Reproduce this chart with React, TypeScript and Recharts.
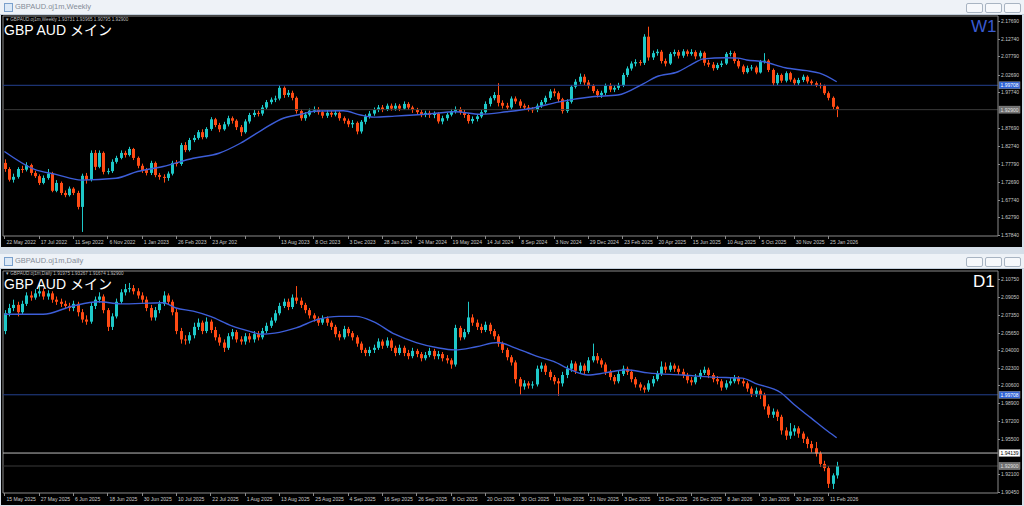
import React from "react";
import { ComposedChart, Bar, Line, XAxis, YAxis, ReferenceLine } from "recharts";

// ---- GBPAUD weekly, 22 May 2022 .. 8 Feb 2026 (bar open = previous close) ----
const weeklyFirstOpen = 1.780;
const weeklyClose = [
  1.763, 1.733, 1.741, 1.763, 1.761, 1.774, 1.752, 1.743, 1.724, 1.738,
  1.750, 1.702, 1.724, 1.696, 1.690, 1.708, 1.696, 1.657, 1.744, 1.733,
  1.808, 1.769, 1.808, 1.755, 1.757, 1.783, 1.794, 1.808, 1.802, 1.819,
  1.794, 1.772, 1.760, 1.752, 1.780, 1.746, 1.741, 1.738, 1.750, 1.780,
  1.777, 1.830, 1.816, 1.844, 1.850, 1.866, 1.852, 1.875, 1.902, 1.886,
  1.874, 1.888, 1.905, 1.898, 1.880, 1.866, 1.896, 1.914, 1.920, 1.918,
  1.935, 1.950, 1.957, 1.960, 1.990, 1.970, 1.976, 1.962, 1.925, 1.905,
  1.915, 1.926, 1.930, 1.922, 1.912, 1.920, 1.915, 1.920, 1.905, 1.898,
  1.888, 1.892, 1.868, 1.895, 1.910, 1.918, 1.928, 1.935, 1.930, 1.940,
  1.932, 1.940, 1.932, 1.945, 1.935, 1.928, 1.922, 1.915, 1.920, 1.914,
  1.918, 1.896, 1.905, 1.915, 1.925, 1.930, 1.922, 1.914, 1.897, 1.903,
  1.910, 1.922, 1.945, 1.961, 1.970, 1.948, 1.940, 1.935, 1.960, 1.952,
  1.940, 1.935, 1.930, 1.928, 1.940, 1.950, 1.962, 1.980, 1.975, 1.958,
  1.925, 1.951, 1.993, 2.007, 2.021, 2.005, 1.995, 1.981, 1.970, 1.976,
  1.996, 1.985, 1.990, 1.997, 2.026, 2.044, 2.058, 2.062, 2.060, 2.133,
  2.075, 2.087, 2.091, 2.065, 2.058, 2.085, 2.090, 2.080, 2.092, 2.085,
  2.090, 2.078, 2.088, 2.060, 2.055, 2.045, 2.054, 2.058, 2.085, 2.087,
  2.065, 2.050, 2.034, 2.045, 2.047, 2.033, 2.063, 2.066, 2.040, 2.003,
  2.026, 2.010, 2.031, 2.013, 2.003, 2.012, 2.021, 2.008, 2.003, 1.998,
  1.995, 1.975, 1.962, 1.937, 1.929,
];
const weeklyHigh = [
  1.790, 1.768, 1.750, 1.768, 1.772, 1.782, 1.778, 1.758, 1.748, 1.745,
  1.763, 1.755, 1.732, 1.728, 1.703, 1.714, 1.712, 1.702, 1.750, 1.752,
  1.815, 1.816, 1.815, 1.812, 1.765, 1.790, 1.800, 1.815, 1.814, 1.825,
  1.822, 1.798, 1.778, 1.766, 1.786, 1.784, 1.752, 1.748, 1.756, 1.786,
  1.788, 1.836, 1.838, 1.850, 1.858, 1.872, 1.874, 1.880, 1.908, 1.906,
  1.892, 1.895, 1.912, 1.910, 1.902, 1.886, 1.902, 1.920, 1.928, 1.926,
  1.942, 1.956, 1.963, 1.968, 1.997, 1.994, 1.984, 1.982, 1.966, 1.930,
  1.922, 1.932, 1.938, 1.936, 1.926, 1.928, 1.926, 1.928, 1.924, 1.910,
  1.904, 1.900, 1.896, 1.900, 1.916, 1.925, 1.935, 1.942, 1.942, 1.946,
  1.946, 1.947, 1.945, 1.952, 1.950, 1.940, 1.934, 1.928, 1.926, 1.926,
  1.924, 1.922, 1.912, 1.920, 1.931, 1.938, 1.936, 1.928, 1.918, 1.910,
  1.916, 1.928, 1.952, 1.966, 1.978, 2.003, 1.955, 1.948, 1.966, 1.966,
  1.958, 1.946, 1.942, 1.936, 1.946, 1.956, 1.968, 1.986, 1.988, 1.980,
  1.962, 1.958, 1.998, 2.014, 2.030, 2.028, 2.012, 2.000, 1.986, 1.982,
  2.002, 2.003, 1.997, 2.004, 2.032, 2.050, 2.064, 2.070, 2.068, 2.140,
  2.161, 2.094, 2.098, 2.096, 2.072, 2.090, 2.097, 2.096, 2.098, 2.097,
  2.098, 2.095, 2.094, 2.092, 2.068, 2.062, 2.060, 2.066, 2.090, 2.094,
  2.092, 2.070, 2.055, 2.052, 2.054, 2.052, 2.068, 2.087, 2.070, 2.044,
  2.032, 2.030, 2.036, 2.035, 2.018, 2.018, 2.027, 2.025, 2.013, 2.008,
  2.004, 1.999, 1.980, 1.966, 1.940,
];
const weeklyLow = [
  1.755, 1.728, 1.725, 1.736, 1.752, 1.756, 1.745, 1.738, 1.718, 1.720,
  1.733, 1.698, 1.698, 1.690, 1.684, 1.686, 1.690, 1.650, 1.587, 1.722,
  1.728, 1.760, 1.765, 1.748, 1.748, 1.752, 1.778, 1.790, 1.795, 1.798,
  1.788, 1.765, 1.752, 1.745, 1.746, 1.740, 1.733, 1.725, 1.730, 1.745,
  1.770, 1.772, 1.810, 1.812, 1.838, 1.845, 1.846, 1.848, 1.870, 1.880,
  1.866, 1.870, 1.882, 1.890, 1.872, 1.855, 1.862, 1.890, 1.908, 1.910,
  1.912, 1.930, 1.944, 1.950, 1.955, 1.962, 1.964, 1.955, 1.918, 1.898,
  1.898, 1.910, 1.920, 1.915, 1.905, 1.906, 1.908, 1.910, 1.898, 1.890,
  1.880, 1.878, 1.860, 1.862, 1.888, 1.904, 1.912, 1.922, 1.922, 1.925,
  1.926, 1.926, 1.925, 1.928, 1.928, 1.920, 1.915, 1.908, 1.908, 1.906,
  1.905, 1.890, 1.888, 1.898, 1.910, 1.918, 1.915, 1.906, 1.890, 1.890,
  1.896, 1.905, 1.918, 1.938, 1.955, 1.938, 1.932, 1.928, 1.930, 1.945,
  1.933, 1.928, 1.924, 1.920, 1.922, 1.934, 1.945, 1.956, 1.966, 1.950,
  1.918, 1.920, 1.946, 1.988, 2.000, 1.998, 1.988, 1.975, 1.963, 1.962,
  1.970, 1.978, 1.978, 1.984, 1.992, 2.020, 2.038, 2.050, 2.052, 2.054,
  2.066, 2.068, 2.080, 2.058, 2.050, 2.054, 2.078, 2.072, 2.074, 2.078,
  2.080, 2.070, 2.072, 2.052, 2.048, 2.038, 2.040, 2.048, 2.054, 2.078,
  2.058, 2.044, 2.028, 2.030, 2.038, 2.028, 2.030, 2.058, 2.034, 1.996,
  1.998, 2.004, 2.005, 2.007, 1.998, 1.998, 2.006, 2.002, 1.997, 1.992,
  1.988, 1.970, 1.955, 1.930, 1.908,
];
// moving average at these bar numbers
const weeklyMaAt = [0, 7, 12, 18, 26, 31, 37, 44, 50, 55, 60, 65, 69, 73, 79, 83, 86, 91, 99, 105,
  111, 117, 123, 129, 137, 143, 149, 152, 157, 160, 163, 168, 171, 173, 177, 182, 187, 190, 194];
const weeklyMaVal = [1.812, 1.762, 1.748, 1.732, 1.737, 1.756, 1.770, 1.793, 1.807, 1.835,
  1.872, 1.905, 1.916, 1.925, 1.926, 1.914, 1.908, 1.911, 1.917, 1.923,
  1.916, 1.923, 1.933, 1.950, 1.965, 1.970, 2.002, 2.021, 2.035, 2.054,
  2.071, 2.074, 2.073, 2.068, 2.063, 2.046, 2.038, 2.031, 2.007];
const weeklyDates = ["22 May 2022", "17 Jul 2022", "11 Sep 2022", "6 Nov 2022", "1 Jan 2023",
  "26 Feb 2023", "23 Apr 202", "", "13 Aug 2023", "8 Oct 2023", "3 Dec 2023", "28 Jan 2024",
  "24 Mar 2024", "19 May 2024", "14 Jul 2024", "8 Sep 2024", "3 Nov 2024", "29 Dec 2024",
  "23 Feb 2025", "20 Apr 2025", "15 Jun 2025", "10 Aug 2025", "5 Oct 2025", "30 Nov 2025", "25 Jan 2026"];
const weeklyPriceTicks = [2.1769, 2.1274, 2.0779, 2.0269, 1.9774, 1.8769, 1.8274, 1.7779,
  1.7269, 1.6774, 1.6279, 1.5784];

// ---- GBPAUD daily, 15 May 2025 .. 13 Feb 2026 ----
const dailyFirstOpen = 2.058;
const dailyClose = [
  2.075, 2.080, 2.083, 2.076, 2.084, 2.092, 2.090, 2.094, 2.096, 2.091,
  2.094, 2.088, 2.086, 2.084, 2.082, 2.080, 2.084, 2.076, 2.069, 2.067,
  2.082, 2.088, 2.091, 2.078, 2.062, 2.072, 2.086, 2.095, 2.098, 2.099,
  2.096, 2.092, 2.088, 2.080, 2.071, 2.078, 2.084, 2.092, 2.086, 2.076,
  2.058, 2.050, 2.049, 2.054, 2.062, 2.066, 2.058, 2.067, 2.059, 2.052,
  2.047, 2.042, 2.053, 2.057, 2.050, 2.048, 2.053, 2.050, 2.055, 2.052,
  2.058, 2.063, 2.068, 2.075, 2.082, 2.086, 2.081, 2.090, 2.087, 2.083,
  2.078, 2.073, 2.070, 2.066, 2.070, 2.066, 2.062, 2.055, 2.052, 2.060,
  2.056, 2.052, 2.046, 2.040, 2.037, 2.040, 2.042, 2.048, 2.044, 2.049,
  2.042, 2.037, 2.042, 2.037, 2.034, 2.039, 2.036, 2.032, 2.035, 2.039,
  2.034, 2.036, 2.032, 2.030, 2.026, 2.061, 2.052, 2.057, 2.071, 2.066,
  2.062, 2.059, 2.064, 2.058, 2.053, 2.046, 2.040, 2.033, 2.028, 2.012,
  2.005, 2.008, 2.006, 2.007, 2.022, 2.025, 2.019, 2.014, 2.010, 2.008,
  2.016, 2.022, 2.027, 2.020, 2.025, 2.020, 2.030, 2.034, 2.030, 2.026,
  2.019, 2.014, 2.010, 2.017, 2.022, 2.019, 2.012, 2.007, 2.004, 2.002,
  2.008, 2.012, 2.017, 2.024, 2.021, 2.025, 2.022, 2.019, 2.016, 2.011,
  2.009, 2.014, 2.018, 2.021, 2.016, 2.012, 2.010, 2.004, 2.008, 2.010,
  2.013, 2.010, 2.008, 2.003, 1.998, 2.001, 1.997, 1.986, 1.978, 1.981,
  1.976, 1.963, 1.958, 1.962, 1.965, 1.960, 1.955, 1.950, 1.946, 1.941,
  1.931, 1.927, 1.912, 1.920, 1.929,
];
const dailyHigh = [
  2.078, 2.084, 2.088, 2.086, 2.087, 2.095, 2.096, 2.098, 2.104, 2.099,
  2.097, 2.096, 2.091, 2.089, 2.087, 2.085, 2.087, 2.086, 2.079, 2.073,
  2.085, 2.091, 2.095, 2.093, 2.080, 2.075, 2.089, 2.098, 2.103, 2.104,
  2.102, 2.099, 2.095, 2.091, 2.083, 2.081, 2.087, 2.096, 2.094, 2.088,
  2.079, 2.061, 2.054, 2.057, 2.066, 2.070, 2.068, 2.071, 2.069, 2.062,
  2.055, 2.050, 2.056, 2.060, 2.059, 2.053, 2.056, 2.056, 2.058, 2.058,
  2.061, 2.066, 2.071, 2.078, 2.085, 2.089, 2.089, 2.093, 2.101, 2.090,
  2.085, 2.080, 2.075, 2.072, 2.073, 2.072, 2.068, 2.064, 2.058, 2.063,
  2.062, 2.058, 2.054, 2.048, 2.042, 2.043, 2.045, 2.051, 2.050, 2.052,
  2.051, 2.044, 2.045, 2.044, 2.040, 2.042, 2.041, 2.038, 2.038, 2.042,
  2.041, 2.039, 2.038, 2.035, 2.032, 2.064, 2.063, 2.060, 2.086, 2.074,
  2.069, 2.065, 2.067, 2.066, 2.060, 2.055, 2.048, 2.042, 2.035, 2.030,
  2.014, 2.011, 2.010, 2.010, 2.025, 2.028, 2.027, 2.021, 2.016, 2.013,
  2.019, 2.025, 2.030, 2.029, 2.028, 2.027, 2.033, 2.046, 2.037, 2.032,
  2.028, 2.021, 2.016, 2.020, 2.025, 2.024, 2.021, 2.014, 2.009, 2.006,
  2.011, 2.015, 2.020, 2.029, 2.028, 2.028, 2.027, 2.025, 2.022, 2.018,
  2.014, 2.017, 2.021, 2.024, 2.023, 2.018, 2.015, 2.012, 2.011, 2.013,
  2.016, 2.015, 2.013, 2.010, 2.005, 2.004, 2.003, 1.999, 1.988, 1.984,
  1.983, 1.978, 1.966, 1.970, 1.968, 1.967, 1.962, 1.957, 1.953, 1.952,
  1.943, 1.934, 1.929, 1.922, 1.933,
];
const dailyLow = [
  2.055, 2.072, 2.077, 2.072, 2.074, 2.082, 2.087, 2.088, 2.091, 2.088,
  2.088, 2.085, 2.083, 2.081, 2.079, 2.077, 2.077, 2.072, 2.066, 2.064,
  2.065, 2.079, 2.085, 2.075, 2.058, 2.059, 2.070, 2.084, 2.092, 2.095,
  2.093, 2.089, 2.085, 2.077, 2.068, 2.068, 2.075, 2.082, 2.083, 2.073,
  2.055, 2.046, 2.045, 2.046, 2.051, 2.059, 2.055, 2.056, 2.056, 2.049,
  2.044, 2.038, 2.040, 2.050, 2.047, 2.045, 2.045, 2.047, 2.047, 2.049,
  2.050, 2.056, 2.061, 2.066, 2.073, 2.080, 2.078, 2.079, 2.084, 2.080,
  2.075, 2.070, 2.067, 2.063, 2.064, 2.063, 2.059, 2.052, 2.049, 2.050,
  2.053, 2.049, 2.043, 2.037, 2.034, 2.034, 2.037, 2.040, 2.041, 2.042,
  2.039, 2.034, 2.035, 2.034, 2.031, 2.032, 2.033, 2.029, 2.030, 2.033,
  2.031, 2.031, 2.029, 2.027, 2.022, 2.024, 2.049, 2.050, 2.055, 2.063,
  2.059, 2.056, 2.057, 2.055, 2.050, 2.043, 2.037, 2.030, 2.025, 2.008,
  1.997, 2.002, 2.003, 2.003, 2.005, 2.019, 2.016, 2.011, 2.007, 1.996,
  2.005, 2.013, 2.019, 2.017, 2.017, 2.017, 2.018, 2.028, 2.027, 2.023,
  2.016, 2.011, 2.007, 2.008, 2.015, 2.016, 2.009, 2.004, 2.001, 1.999,
  2.000, 2.005, 2.010, 2.015, 2.018, 2.019, 2.019, 2.016, 2.013, 2.008,
  2.006, 2.007, 2.012, 2.016, 2.013, 2.009, 2.007, 2.001, 2.002, 2.006,
  2.008, 2.007, 2.005, 2.000, 1.995, 1.995, 1.993, 1.983, 1.975, 1.975,
  1.972, 1.959, 1.954, 1.955, 1.958, 1.956, 1.951, 1.946, 1.942, 1.938,
  1.928, 1.924, 1.908, 1.907, 1.917,
];
const dailyMaAt = [0, 9, 16, 22, 27, 37, 40, 44, 48, 53, 57, 60, 63, 68, 73, 78, 82, 86, 91, 96,
  101, 105, 110, 115, 119, 124, 128, 132, 136, 140, 145, 150, 158, 165, 172, 175, 181, 184, 188, 192, 194];
const dailyMaVal = [2.074, 2.074, 2.082, 2.086, 2.084, 2.085, 2.080, 2.077, 2.072, 2.063,
  2.058, 2.055, 2.056, 2.061, 2.069, 2.072, 2.072, 2.067, 2.055, 2.047,
  2.042, 2.040, 2.043, 2.047, 2.042, 2.034, 2.029, 2.021, 2.016, 2.018,
  2.021, 2.018, 2.016, 2.014, 2.013, 2.008, 1.999, 1.988, 1.975, 1.962, 1.956];
const dailyDates = ["15 May 2025", "27 May 2025", "6 Jun 2025", "18 Jun 2025", "30 Jun 2025",
  "10 Jul 2025", "22 Jul 2025", "1 Aug 2025", "13 Aug 2025", "25 Aug 2025", "4 Sep 2025",
  "16 Sep 2025", "26 Sep 2025", "8 Oct 2025", "20 Oct 2025", "30 Oct 2025", "11 Nov 2025",
  "21 Nov 2025", "3 Dec 2025", "15 Dec 2025", "26 Dec 2025", "8 Jan 2026", "20 Jan 2026",
  "30 Jan 2026", "11 Feb 2026"];
const dailyPriceTicks = [2.1075, 2.0905, 2.0735, 2.0565, 2.04, 2.023, 2.006, 1.989, 1.972,
  1.955, 1.921, 1.9045];

const BULL = "#1ec8c8";
const BEAR = "#ff4b14";
const MA = "#3d5ed8";
const GRID = "#8a8a8a";
const AXIS_TEXT = "#c9c9c9";
const SMALL_FONT = "Liberation Sans, Arial, sans-serif";
const X_DOMAIN: [number, number] = [-0.33, 231.6];

type Row = { i: number; o: number; h: number; l: number; c: number; ma?: number };

function buildRows(firstOpen: number, close: number[], high: number[], low: number[], maAt: number[], maVal: number[]) {
  const rows: Row[] = close.map((c, i) => ({
    i, o: i === 0 ? firstOpen : close[i - 1], h: high[i], l: low[i], c,
  }));
  maAt.forEach((idx, k) => { rows[idx].ma = maVal[k]; });
  return rows;
}

const weeklyRows = buildRows(weeklyFirstOpen, weeklyClose, weeklyHigh, weeklyLow, weeklyMaAt, weeklyMaVal);
const dailyRows = buildRows(dailyFirstOpen, dailyClose, dailyHigh, dailyLow, dailyMaAt, dailyMaVal);

const Candle = (props: any) => {
  const { x, y, width, height, payload } = props;
  if (!payload || x == null) return null;
  const { o, h, l, c } = payload;
  const color = c >= o ? BULL : BEAR;
  const top = Math.min(y, y + height);
  const H = Math.abs(height);
  const k = h - l > 0 ? H / (h - l) : 0;
  const cx = Math.round(x + width / 2);
  const bodyTop = top + (h - Math.max(o, c)) * k;
  const bodyH = Math.max(1, Math.abs(o - c) * k);
  return (
    <g>
      <line x1={cx + 0.5} x2={cx + 0.5} y1={top} y2={top + H} stroke={color} strokeWidth={1} />
      <rect x={cx - 1} y={bodyTop} width={3} height={bodyH} fill={color} />
    </g>
  );
};

const TimeTick = (props: any) => {
  const { x, y, payload, labels } = props;
  const text = labels[Math.round(payload.value / 8)] ?? "";
  return (
    <g>
      <line x1={Math.round(x) + 0.5} x2={Math.round(x) + 0.5} y1={y} y2={y + 3} stroke={GRID} />
      <text x={x + 2} y={y + 8} fontSize={5.1} fill={AXIS_TEXT} fontFamily={SMALL_FONT}>{text}</text>
    </g>
  );
};

const PriceTick = (props: any) => {
  const { x, y, payload } = props;
  return (
    <g>
      <line x1={x} x2={x + 2} y1={Math.round(y) + 0.5} y2={Math.round(y) + 0.5} stroke={GRID} />
      <text x={x + 3} y={y + 2} fontSize={5} fill={AXIS_TEXT} fontFamily={SMALL_FONT}>
        {Number(payload.value).toFixed(5)}
      </text>
    </g>
  );
};

const PriceTag = (props: any) => {
  const { viewBox, text, bg, fg } = props;
  if (!viewBox) return null;
  const x = viewBox.x + viewBox.width;
  const y = viewBox.y;
  return (
    <g>
      <rect x={x + 1} y={y - 3.5} width={21} height={7} fill={bg} stroke="#9a9a9a" strokeWidth={0.5} />
      <text x={x + 2.5} y={y + 2} fontSize={5} fill={fg} fontFamily={SMALL_FONT}>{text}</text>
    </g>
  );
};

type Level = { price: number; text: string; line: string; bg: string; fg: string };

type PanelProps = {
  rows: Row[];
  yDomain: [number, number];
  priceTicks: number[];
  dates: string[];
  levels: Level[];
  height: number;
  xAxisHeight: number;
  marginTop: number;
};

function CandlePanel({ rows, yDomain, priceTicks, dates, levels, height, xAxisHeight, marginTop }: PanelProps) {
  const xTicks = dates.map((_, k) => k * 8);
  return (
    <ComposedChart width={1021} height={height} data={rows}
      margin={{ top: marginTop, right: 0, left: 2, bottom: 0 }} style={{ background: "#000" }}>
      <XAxis dataKey="i" type="number" domain={X_DOMAIN} allowDataOverflow ticks={xTicks} interval={0}
        height={xAxisHeight} tickSize={0} tickMargin={0} tickLine={false}
        axisLine={{ stroke: GRID }} tick={<TimeTick labels={dates} />} />
      <YAxis orientation="right" type="number" domain={yDomain} allowDataOverflow ticks={priceTicks}
        interval={0} width={24} tickSize={0} tickMargin={0} tickLine={false}
        axisLine={{ stroke: GRID }} tick={<PriceTick />} />
      <ReferenceLine y={yDomain[1]} stroke={GRID} ifOverflow="visible" />
      <ReferenceLine x={X_DOMAIN[0]} stroke={GRID} ifOverflow="visible" />
      {levels.map((lv) => (
        <ReferenceLine key={lv.text} y={lv.price} stroke={lv.line} strokeWidth={1}
          label={<PriceTag text={lv.text} bg={lv.bg} fg={lv.fg} />} />
      ))}
      <Bar dataKey={(d: Row) => [d.l, d.h]} barSize={3} shape={<Candle />} isAnimationActive={false} />
      <Line dataKey="ma" type="monotone" connectNulls dot={false} stroke={MA} strokeWidth={1.4}
        isAnimationActive={false} />
    </ComposedChart>
  );
}

function TitleBar({ title }: { title: string }) {
  return (
    <div style={{ position: "absolute", left: 0, top: 0, width: 1024, height: 14, background: "#eef2f7",
      borderBottom: "1px solid #c3cfdc" }}>
      <div style={{ position: "absolute", left: 4, top: 3, width: 7, height: 7, border: "1px solid #7aa0cc",
        background: "#dbe8f6" }} />
      <div style={{ position: "absolute", left: 15, top: 2, fontSize: 7.5, color: "#858d97",
        fontFamily: SMALL_FONT }}>{title}</div>
      {[0, 1, 2].map((k) => (
        <div key={k} style={{ position: "absolute", left: 966 + k * 19, top: 3, width: 15, height: 8,
          border: "1px solid #a8b4c2", borderRadius: 2, background: "#f6f8fb" }} />
      ))}
    </div>
  );
}

const overlayText: React.CSSProperties = { position: "absolute", whiteSpace: "nowrap" };

export default function App() {
  return (
    <div style={{ position: "absolute", left: 0, top: 0, width: 1024, height: 506, background: "#d5dee8",
      overflow: "hidden" }}>
      {/* weekly window */}
      <div style={{ position: "absolute", left: 0, top: 0, width: 1024, height: 248 }}>
        <TitleBar title="GBPAUD.oj1m,Weekly" />
        <div style={{ position: "absolute", left: 1, top: 15 }}>
          <CandlePanel rows={weeklyRows} yDomain={[1.5756, 2.1909]} priceTicks={weeklyPriceTicks}
            dates={weeklyDates} height={232} xAxisHeight={11} marginTop={1}
            levels={[
              { price: 1.99708, text: "1.99708", line: "#23408f", bg: "#2f63d6", fg: "#ffffff" },
              { price: 1.929, text: "1.92900", line: "#3a3a3a", bg: "#6e6e6e", fg: "#e0e0e0" },
            ]} />
          <div style={{ ...overlayText, left: 5, top: 2, fontSize: 4.6, color: "#bdbdbd",
            fontFamily: SMALL_FONT }}>▾ GBPAUD.oj1m,Weekly  1.93731 1.93965 1.90795 1.92900</div>
          <div style={{ ...overlayText, left: 3, top: 4, fontSize: 14, color: "#ffffff",
            fontFamily: "Liberation Sans, Noto Sans CJK JP, sans-serif" }}>GBP AUD メイン</div>
          <div style={{ ...overlayText, left: 970, top: 2, fontSize: 17, color: "#3a5bd0",
            fontFamily: "Liberation Sans, sans-serif" }}>W1</div>
        </div>
      </div>
      {/* daily window */}
      <div style={{ position: "absolute", left: 0, top: 254, width: 1024, height: 252 }}>
        <TitleBar title="GBPAUD.oj1m,Daily" />
        <div style={{ position: "absolute", left: 1, top: 15 }}>
          <CandlePanel rows={dailyRows} yDomain={[1.9032, 2.1154]} priceTicks={dailyPriceTicks}
            dates={dailyDates} height={236} xAxisHeight={12} marginTop={2}
            levels={[
              { price: 1.99708, text: "1.99708", line: "#23408f", bg: "#2f63d6", fg: "#ffffff" },
              { price: 1.94139, text: "1.94139", line: "#bdbdbd", bg: "#ffffff", fg: "#000000" },
              { price: 1.929, text: "1.92900", line: "#3a3a3a", bg: "#6e6e6e", fg: "#e0e0e0" },
            ]} />
          <div style={{ ...overlayText, left: 5, top: 2, fontSize: 4.6, color: "#bdbdbd",
            fontFamily: SMALL_FONT }}>▾ GBPAUD.oj1m,Daily  1.91975 1.93267 1.91674 1.92900</div>
          <div style={{ ...overlayText, left: 3, top: 4, fontSize: 14, color: "#ffffff",
            fontFamily: "Liberation Sans, Noto Sans CJK JP, sans-serif" }}>GBP AUD メイン</div>
          <div style={{ ...overlayText, left: 972, top: 3, fontSize: 17, color: "#ffffff",
            fontFamily: "Liberation Sans, sans-serif" }}>D1</div>
        </div>
      </div>
    </div>
  );
}
